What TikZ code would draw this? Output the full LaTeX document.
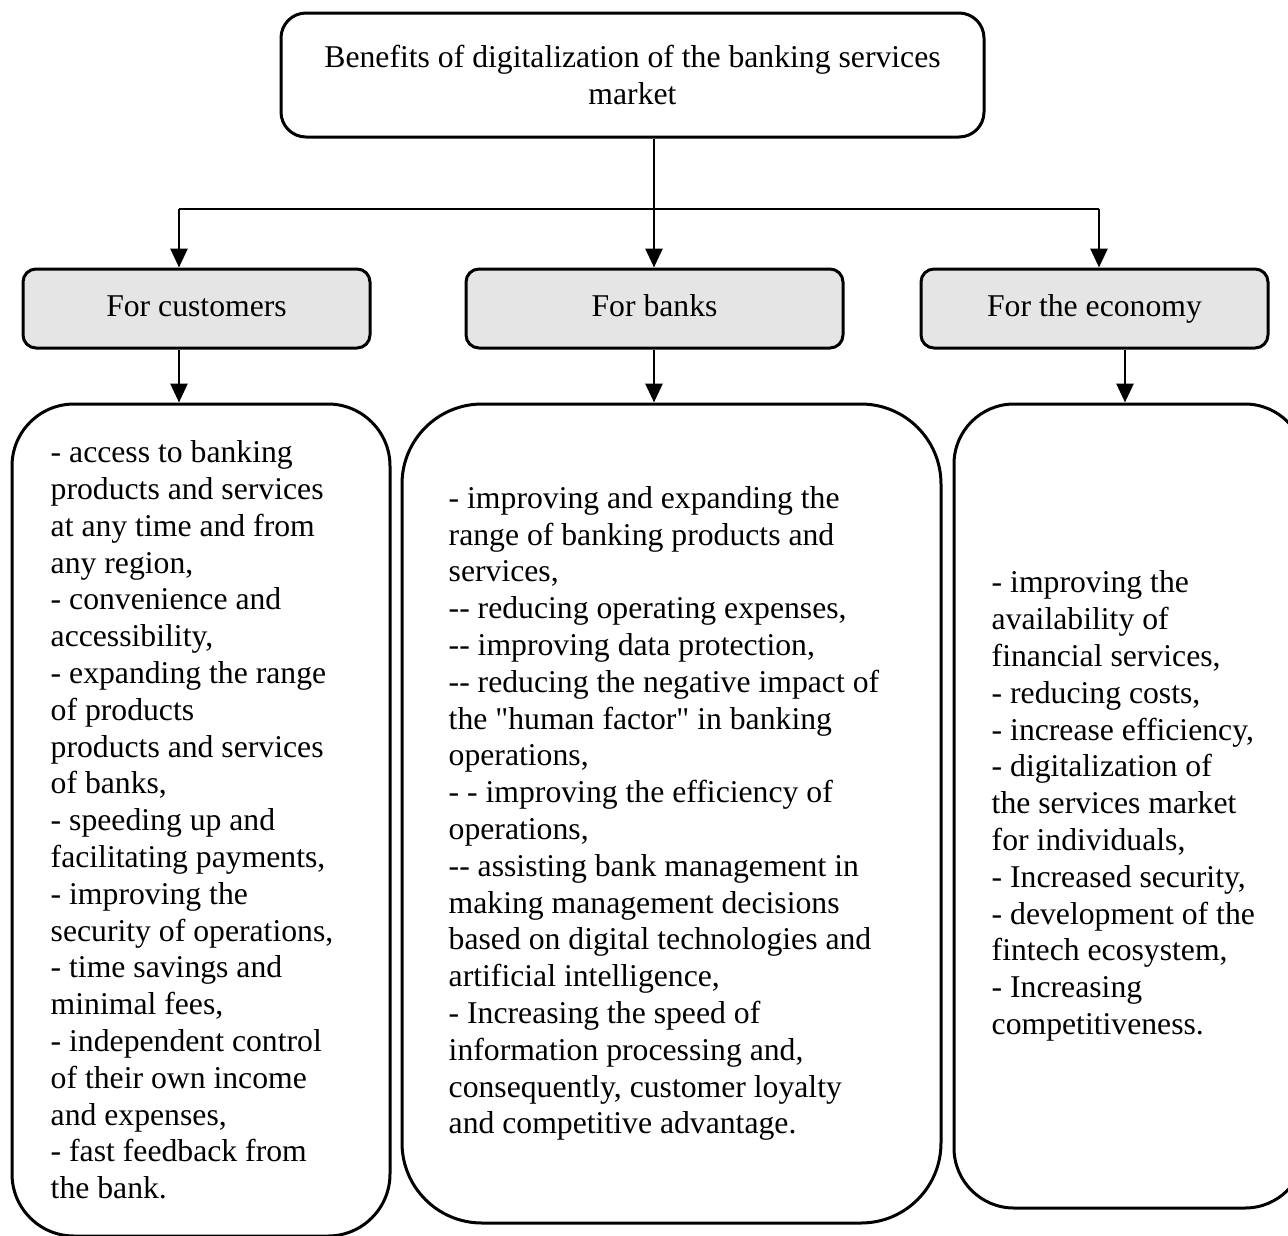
\documentclass[tikz,border=0pt]{standalone}
\usepackage{fontspec}
\newfontfamily\bodyfont{Liberation Serif}
\usetikzlibrary{arrows.meta}

\tikzset{
  every node/.style={font=\bodyfont\fontsize{31.7}{36.8}\selectfont, text=black},
  frame/.style={draw=black, line width=3pt, rectangle, inner sep=0pt},
  titlebox/.style={frame, rounded corners=25pt, align=center},
  groupbox/.style={frame, rounded corners=13pt, fill=black!10, align=center,
    text height=22pt, text depth=7pt},
  listbox/.style={frame, rounded corners=#1},
  listbox/.default=60pt,
  listtext/.style={anchor=west, align=left, inner sep=0pt},
  arr/.style={line width=2.8pt, -{Triangle[length=19pt,width=17pt]}},
  link/.style={line width=2.8pt}
}

\begin{document}
\begin{tikzpicture}[x=1pt, y=-1pt]
  \clip (0,0) rectangle (1288,1235);
  \fill[white] (0,0) rectangle (1288,1235);

  % heading
  \node[titlebox, minimum width=703pt, minimum height=124pt] (title) at (632.5,75)
    {Benefits of digitalization of the banking services\\market};

  % three groups
  \node[groupbox, minimum width=347pt, minimum height=79pt] (cust)  at (196.5,308.5) {For customers};
  \node[groupbox, minimum width=377pt, minimum height=79pt] (banks) at (654.5,308.5) {For banks};
  \node[groupbox, minimum width=347pt, minimum height=79pt] (econ)  at (1094.5,308.5) {For the economy};

  % list frames
  \node[listbox=62pt, minimum width=378pt, minimum height=832pt] (custlist)  at (201,820) {};
  \node[listbox=80pt, minimum width=539pt, minimum height=819pt] (banklist)  at (671.5,813.5) {};
  \node[listbox=60pt, minimum width=351pt, minimum height=804pt] (econlist)  at (1129.5,806) {};

  % list contents
  \node[listtext] (custtext) at ([xshift=40pt]custlist.west) {%
    - access to banking\\
    products and services\\
    at any time and from\\
    any region,\\
    - convenience and\\
    accessibility,\\
    - expanding the range\\
    of products\\
    products and services\\
    of banks,\\
    - speeding up and\\
    facilitating payments,\\
    - improving the\\
    security of operations,\\
    - time savings and\\
    minimal fees,\\
    - independent control\\
    of their own income\\
    and expenses,\\
    - fast feedback from\\
    the bank.};

  \node[listtext] (banktext) at ([xshift=48pt]banklist.west) {%
    - improving and expanding the\\
    range of banking products and\\
    services,\\
    -- reducing operating expenses,\\
    -- improving data protection,\\
    -- reducing the negative impact of\\
    the "human factor" in banking\\
    operations,\\
    - - improving the efficiency of\\
    operations,\\
    -- assisting bank management in\\
    making management decisions\\
    based on digital technologies and\\
    artificial intelligence,\\
    - Increasing the speed of\\
    information processing and,\\
    consequently, customer loyalty\\
    and competitive advantage.};

  \node[listtext] (econtext) at ([xshift=39pt]econlist.west) {%
    - improving the\\
    availability of\\
    financial services,\\
    - reducing costs,\\
    - increase efficiency,\\
    - digitalization of\\
    the services market\\
    for individuals,\\
    - Increased security,\\
    - development of the\\
    fintech ecosystem,\\
    - Increasing\\
    competitiveness.};

  % connector routing points
  \coordinate (split) at (654,209);
  \coordinate (lt) at (179,209);
  \coordinate (rt) at (1099,209);
  \coordinate (er) at (1125,0);

  \draw[arr] (split |- title.south) -- (split |- banks.north);
  \draw[link] (lt) -- (rt);
  \draw[arr] (lt) -- (lt |- cust.north);
  \draw[arr] (rt) -- (rt |- econ.north);

  \draw[arr] (lt |- cust.south) -- (lt |- custlist.north);
  \draw[arr] (split |- banks.south) -- (split |- banklist.north);
  \draw[arr] (er |- econ.south) -- (er |- econlist.north);
\end{tikzpicture}
\end{document}
